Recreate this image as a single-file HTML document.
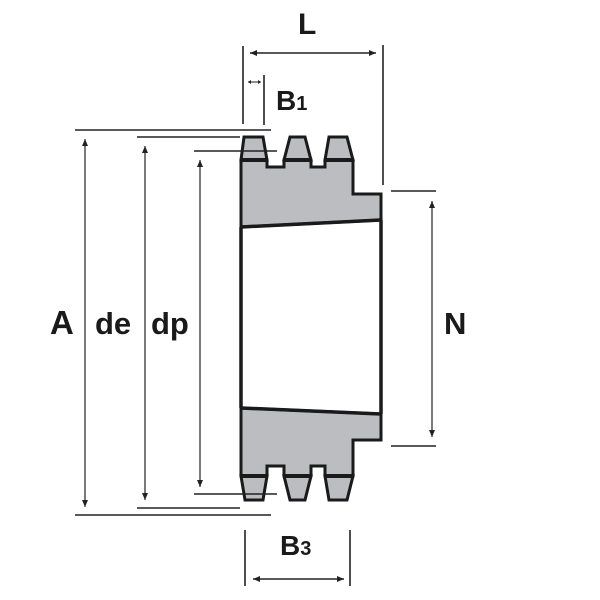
<!DOCTYPE html>
<html><head><meta charset="utf-8"><style>
html,body{margin:0;padding:0;background:#fff;width:600px;height:600px;overflow:hidden}
text{font-family:"Liberation Sans",sans-serif;font-weight:bold;fill:#1a1a1a}
</style></head><body>
<svg width="600" height="600" viewBox="0 0 600 600" xmlns="http://www.w3.org/2000/svg">
<defs>
<marker id="ah" markerWidth="8" markerHeight="8" refX="7" refY="4" orient="auto-start-reverse" markerUnits="userSpaceOnUse">
<path d="M0,1 L7,4 L0,7 z" fill="#222"/></marker>
</defs>
<!-- top half body -->
<path d="M241,160 L267,160 L267,167 L284,167 L284,160 L311,160 L311,167 L325,167 L325,160 L353,160 L353,194 L381,194 L381,220 L241,227 Z" fill="#bcbdc0" stroke="#1a1a1a" stroke-width="3"/>
<g fill="#bcbdc0" stroke="#1a1a1a" stroke-width="3">
<path d="M241,160 L244,137 L263,137 L267,160 Z"/>
<path d="M284,160 L290,137 L305,137 L311,160 Z"/>
<path d="M325,160 L329,137 L347,137 L353,160 Z"/>
</g>
<g stroke="#1a1a1a" stroke-width="4">
<line x1="241" y1="160" x2="267" y2="160"/>
<line x1="284" y1="160" x2="311" y2="160"/>
<line x1="325" y1="160" x2="353" y2="160"/>
</g>
<!-- bottom half body -->
<path d="M241,476 L267,476 L267,466 L284,466 L284,476 L311,476 L311,466 L325,466 L325,476 L353,476 L353,440 L381,440 L381,414 L241,408 Z" fill="#bcbdc0" stroke="#1a1a1a" stroke-width="3"/>
<g fill="#bcbdc0" stroke="#1a1a1a" stroke-width="3">
<path d="M241,476 L245,500 L263,500 L267,476 Z"/>
<path d="M284,476 L290,500 L305,500 L311,476 Z"/>
<path d="M325,476 L329,500 L347,500 L353,476 Z"/>
</g>
<g stroke="#1a1a1a" stroke-width="4">
<line x1="241" y1="476" x2="267" y2="476"/>
<line x1="284" y1="476" x2="311" y2="476"/>
<line x1="325" y1="476" x2="353" y2="476"/>
</g>
<!-- bore -->
<line x1="241" y1="227" x2="241" y2="408" stroke="#1a1a1a" stroke-width="3.5"/>
<line x1="381" y1="220" x2="381" y2="414" stroke="#1a1a1a" stroke-width="3.5"/>
<line x1="241" y1="227" x2="381" y2="220" stroke="#1a1a1a" stroke-width="3.5"/>
<line x1="241" y1="408" x2="381" y2="414" stroke="#1a1a1a" stroke-width="3.5"/>

<g stroke="#222" stroke-width="1.6" fill="none">
<line x1="243" y1="46" x2="243" y2="124"/>
<line x1="383" y1="45" x2="383" y2="185"/>
<line x1="250" y1="53" x2="376" y2="53" marker-start="url(#ah)" marker-end="url(#ah)"/>
<line x1="264" y1="75" x2="264" y2="125"/>
<line x1="248" y1="82" x2="261" y2="82" stroke-width="1"/>
<line x1="75" y1="130" x2="271" y2="130"/>
<line x1="137" y1="137" x2="240" y2="137"/>
<line x1="194" y1="151" x2="277" y2="151"/>
<line x1="194" y1="494" x2="277" y2="494"/>
<line x1="137" y1="508" x2="240" y2="508"/>
<line x1="75" y1="515" x2="271" y2="515"/>
<line x1="85" y1="139" x2="85" y2="507" stroke-width="1.2" marker-start="url(#ah)" marker-end="url(#ah)"/>
<line x1="145" y1="146" x2="145" y2="500" stroke-width="1.2" marker-start="url(#ah)" marker-end="url(#ah)"/>
<line x1="200" y1="160" x2="200" y2="487" stroke-width="1.2" marker-start="url(#ah)" marker-end="url(#ah)"/>
<line x1="391" y1="191" x2="436" y2="191"/>
<line x1="391" y1="446" x2="436" y2="446"/>
<line x1="432" y1="201" x2="432" y2="437" stroke-width="1.2" marker-start="url(#ah)" marker-end="url(#ah)"/>
<line x1="245" y1="530" x2="245" y2="586"/>
<line x1="350" y1="530" x2="350" y2="586"/>
<line x1="253" y1="579" x2="344" y2="579" marker-start="url(#ah)" marker-end="url(#ah)"/>
</g>
<path d="M248,82 l3,-2 v4 z M261,82 l-3,-2 v4 z" fill="#222"/>

<text x="298" y="34" font-size="30">L</text>
<text x="276" y="110" font-size="28">B<tspan font-size="20">1</tspan></text>
<text x="50" y="334" font-size="33">A</text>
<text x="95" y="334" font-size="31">de</text>
<text x="151" y="334" font-size="31">dp</text>
<text x="444" y="334" font-size="31">N</text>
<text x="280" y="555" font-size="28">B<tspan font-size="20">3</tspan></text>
</svg>
</body></html>
